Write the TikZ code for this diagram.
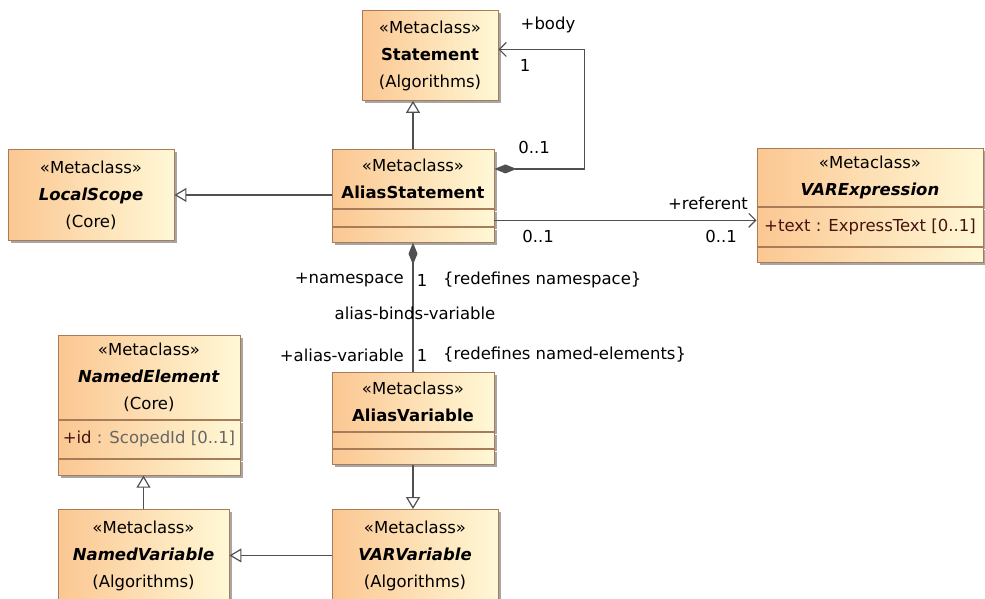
\documentclass[tikz,border=0pt]{standalone}
\usepackage{fontspec}
\setmainfont{DejaVu Sans}
\usetikzlibrary{arrows.meta,positioning,shadows}

\definecolor{clsleft}{RGB}{251,199,146}
\definecolor{clsright}{RGB}{255,248,214}
\definecolor{clsborder}{RGB}{168,124,88}
\definecolor{linecol}{RGB}{80,80,80}
\definecolor{attrcol}{RGB}{70,20,15}
\newcommand{\umlfont}{\fontsize{16.5pt}{27pt}\selectfont}
\newcommand{\mc}{«Metaclass»}

\begin{document}
\begin{tikzpicture}[x=1pt, y=-1pt,
    cls/.style={draw=clsborder, line width=0.9pt, left color=clsleft, right color=clsright,
        inner sep=0pt, align=center, font=\umlfont,
        drop shadow={shadow xshift=3pt, shadow yshift=-3pt, fill=black!50, opacity=0.7}},
    lbl/.style={font=\umlfont, inner sep=0pt},
    gen/.style={draw=linecol, line width=1.2pt, -{Triangle[open, length=12pt, width=14pt, fill=white]}},
    nav/.style={draw=linecol, line width=1.2pt, -{Straight Barb[length=7pt, width=14pt]}},
    comp/.style={draw=linecol, line width=1.2pt, {Diamond[length=22pt, width=9pt, fill=linecol]}-}]
    \useasboundingbox (0,0) rectangle (985,599);

    % Classes
    \node[cls, minimum width=136pt, minimum height=90pt, anchor=north] (st) at (430,10)
        {\mc\\\textbf{Statement}\\(Algorithms)};
    \node[cls, minimum width=166pt, minimum height=91pt, anchor=north] (ls) at (91,149)
        {\mc\\\textbf{\textit{LocalScope}}\\(Core)};

    \node[cls, minimum width=162pt, minimum height=59pt, anchor=north] (ash) at (413,149)
        {\mc\\\textbf{AliasStatement}};
    \node[cls, minimum width=162pt, minimum height=17pt, below=0pt of ash] (asa) {};
    \node[cls, minimum width=162pt, minimum height=15pt, below=0pt of asa] (aso) {};

    \node[cls, minimum width=226pt, minimum height=58pt, anchor=north] (veh) at (870,148)
        {\mc\\\textbf{\textit{VARExpression}}};
    \node[cls, minimum width=226pt, minimum height=39pt, text=attrcol, below=0pt of veh] (vea)
        {+text : ExpressText [0..1]};
    \node[cls, minimum width=226pt, minimum height=15pt, below=0pt of vea] (veo) {};

    \node[cls, minimum width=182pt, minimum height=84pt, anchor=north] (neh) at (149,335)
        {\mc\\\textbf{\textit{NamedElement}}\\(Core)};
    \node[cls, minimum width=182pt, minimum height=38pt, text=black!60, below=0pt of neh] (nea)
        {\textcolor{attrcol}{+id} : ScopedId [0..1]};
    \node[cls, minimum width=182pt, minimum height=16pt, below=0pt of nea] (neo) {};

    \node[cls, minimum width=162pt, minimum height=59pt, anchor=north] (avh) at (413,372)
        {\mc\\\textbf{AliasVariable}};
    \node[cls, minimum width=162pt, minimum height=16pt, below=0pt of avh] (ava) {};
    \node[cls, minimum width=162pt, minimum height=15pt, below=0pt of ava] (avo) {};

    \node[cls, minimum width=166pt, minimum height=92pt, anchor=north] (vv) at (415,509)
        {\mc\\\textbf{\textit{VARVariable}}\\(Algorithms)};
    \node[cls, minimum width=171pt, minimum height=92pt, anchor=north] (nv) at (143.5,509)
        {\mc\\\textbf{\textit{NamedVariable}}\\(Algorithms)};

    % Generalizations
    \draw[gen] (ash.north) -- (ash.north |- st.south);
    \draw[gen] (ash.west |- ls.east) -- (ls.east);
    \draw[gen] (avo.south) -- (avo.south |- vv.north);
    \draw[gen] (vv.west) -- (vv.west -| nv.east);
    \draw[gen] (nv.north) -- (nv.north |- neo.south);

    % Associations
    \draw[comp, {Diamond[length=22pt, width=9pt, fill=linecol]}-{Straight Barb[length=7pt, width=14pt]}]
        ([yshift=10pt]ash.east) -- ++(90,0) |- ([yshift=6pt]st.east);
    \draw[nav] ([yshift=-2.5pt]asa.east) -- ([yshift=-2.5pt]asa.east -| vea.west);
    \draw[comp] (aso.south) -- (avh.north);

    % End labels
    \node[lbl] (body) at (548,25) {+body};
    \node[lbl] (bodym) at (525,65) {1};
    \node[lbl] (selfm) at (534,147) {0..1};
    \node[lbl] (ref) at (708,203) {+referent};
    \node[lbl] (refa) at (538,236) {0..1};
    \node[lbl] (refb) at (721,236) {0..1};
    \node[lbl, anchor=east] (ns) at (404,280) {+namespace};
    \node[lbl] (nsm) at (422,280) {1};
    \node[lbl, anchor=west] (nsr) at (443,280) {\{redefines namespace\}};
    \node[lbl] (assoc) at (415,313) {alias-binds-variable};
    \node[lbl, anchor=east] (avl) at (404,355) {+alias-variable};
    \node[lbl] (avm) at (422,355) {1};
    \node[lbl, anchor=west] (avr) at (443,355) {\{redefines named-elements\}};
\end{tikzpicture}
\end{document}
